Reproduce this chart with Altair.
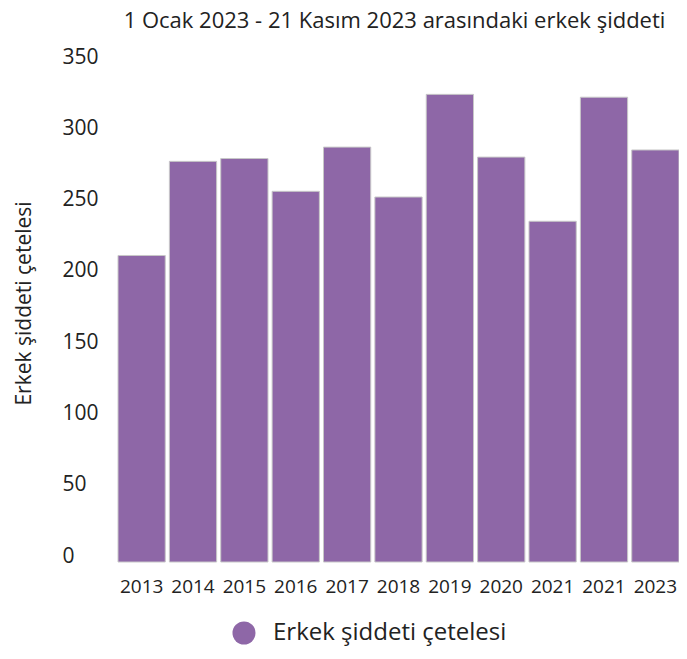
import altair as alt
import pandas as pd

labels = ["2013", "2014", "2015", "2016", "2017", "2018", "2019", "2020", "2021", "2021", "2023"]
values = [215, 281, 283, 260, 291, 256, 328, 284, 239, 326, 289]
series_name = "Erkek şiddeti çetelesi"
title_text = "1 Ocak 2023 - 21 Kasım 2023 arasındaki erkek şiddeti"
y_ticks = [0, 50, 100, 150, 200, 250, 300, 350]

df = pd.DataFrame({
    "idx": list(range(len(labels))),
    "value": values,
    "series": [series_name] * len(labels),
})

label_js = "[" + ",".join("'" + l + "'" for l in labels) + "]"
FONT = "Open Sans"
purple = "#8e67a7"

chart = alt.Chart(df).mark_bar(stroke="#c8c8c8", strokeWidth=1).encode(
    x=alt.X("idx:O", sort=None,
            scale=alt.Scale(paddingInner=0.08, paddingOuter=0),
            axis=alt.Axis(title=None, labelExpr=label_js + "[datum.value]",
                          labelAngle=0, domain=False, ticks=False,
                          labelPadding=15, labelFontSize=19,
                          labelFont=FONT, labelColor="#222")),
    y=alt.Y("value:Q", scale=alt.Scale(domain=[0, 350], nice=False, zero=True),
            axis=alt.Axis(title="Erkek şiddeti çetelesi", values=y_ticks,
                          domain=False, ticks=False, grid=False,
                          labelAlign="left", labelBaseline="alphabetic",
                          labelPadding=56, labelFontSize=21, labelFont=FONT,
                          labelColor="#222",
                          titleFont=FONT, titleFontSize=21, titleFontWeight="normal",
                          titleColor="#222", titleAngle=270, titleX=-94, titleY=240,
                          titleAlign="center", titleBaseline="middle")),
    color=alt.Color("series:N", scale=alt.Scale(range=[purple]),
                    legend=alt.Legend(title=None, orient="none", legendX=114, legendY=558,
                                      symbolType="circle", symbolSize=531,
                                      symbolStrokeWidth=0, labelFontSize=24,
                                      labelFont=FONT, labelColor="#222", labelOffset=17,
                                      labelLimit=500)),
).properties(
    width=561,
    height=499,
    autosize="none",
    padding={"left": 110, "top": 55, "right": 0, "bottom": 89},
    title=alt.TitleParams(title_text, font=FONT, fontSize=22, fontWeight="normal",
                          color="#222", anchor="middle", dx=-4, offset=13),
).configure_view(stroke=None)

chart.save("out.html", embed_options={"renderer": "svg", "actions": False})
